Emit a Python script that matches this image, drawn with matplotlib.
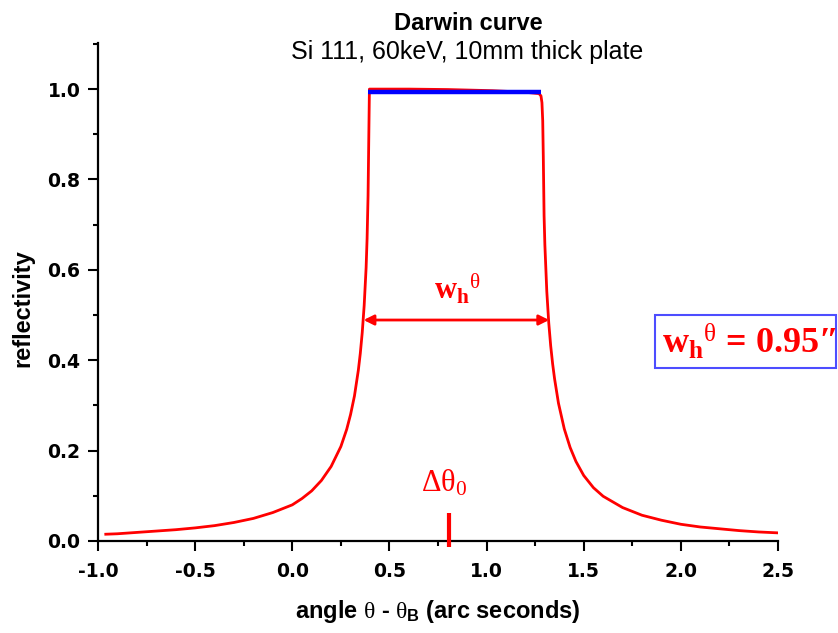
import matplotlib
matplotlib.use("Agg")
import matplotlib.pyplot as plt
from matplotlib.patches import Rectangle
from matplotlib.ticker import MultipleLocator

plt.rcParams['mathtext.fontset'] = 'custom'
plt.rcParams['mathtext.rm'] = 'Liberation Serif'
plt.rcParams['mathtext.it'] = 'Liberation Serif'
plt.rcParams['mathtext.bf'] = 'Liberation Serif:bold'
plt.rcParams['mathtext.sf'] = 'Liberation Sans:bold'

# ---- data ----
angle = [-0.96, -0.9, -0.8, -0.7, -0.6, -0.5, -0.4, -0.3, -0.2, -0.1, 0.0,
         0.05, 0.1, 0.15, 0.2, 0.25, 0.28, 0.30, 0.32, 0.34, 0.35, 0.36,
         0.37, 0.38, 0.385, 0.39, 0.394, 0.397, 0.6, 0.8, 1.03, 1.2, 1.27,
         1.28, 1.285, 1.289, 1.292, 1.296, 1.30, 1.31, 1.32, 1.33, 1.34,
         1.35, 1.37, 1.40, 1.43, 1.46, 1.5, 1.55, 1.6, 1.7, 1.8, 1.9, 2.0,
         2.1, 2.2, 2.3, 2.4, 2.5]
reflectivity = [0.015, 0.016, 0.019, 0.022, 0.025, 0.029, 0.034, 0.041, 0.050,
                0.063, 0.080, 0.094, 0.111, 0.134, 0.165, 0.209, 0.247, 0.280,
                0.321, 0.378, 0.415, 0.461, 0.521, 0.605, 0.669, 0.764, 0.900,
                1.000, 1.000, 0.999, 0.9965, 0.993, 0.990, 0.985, 0.970, 0.930,
                0.850, 0.720, 0.656, 0.552, 0.483, 0.432, 0.392, 0.359, 0.305,
                0.248, 0.207, 0.176, 0.145, 0.118, 0.099, 0.074, 0.057, 0.046,
                0.037, 0.031, 0.027, 0.023, 0.020, 0.018]
plateau_angle = [0.39, 1.28]
plateau_refl = [0.9934, 0.9934]
fwhm_ends = [0.367, 1.322]
fwhm_level = 0.489
delta_theta0 = 0.805
delta_tick = [-0.014, 0.063]
xticks = [-1.0, -0.5, 0.0, 0.5, 1.0, 1.5, 2.0, 2.5]
yticks = [0.0, 0.2, 0.4, 0.6, 0.8, 1.0]

W, H = 838, 633
fig = plt.figure(figsize=(W / 100, H / 100), dpi=100)
ax = fig.add_axes([98 / W, 92 / H, 680 / W, 498 / H])

ax.plot(angle, reflectivity, color='#ff0000', lw=2.0, zorder=3)
ax.plot(plateau_angle, plateau_refl, color='#0000ff', lw=3.2, zorder=4,
        solid_capstyle='butt')

ax.annotate('', xy=(fwhm_ends[0], fwhm_level), xytext=(fwhm_ends[1], fwhm_level),
            arrowprops=dict(arrowstyle='<|-|>', color='#ff0000', lw=2.0,
                            mutation_scale=15, shrinkA=0, shrinkB=0), zorder=5)
ax.text(0.849, 0.535, r'$\mathbf{w}_{\mathbf{h}}{}^{\theta}$', color='#ff0000',
        fontsize=22, ha='center', va='baseline')

ax.plot([delta_theta0, delta_theta0], delta_tick, color='#ff0000', lw=3.0,
        clip_on=False, zorder=5, solid_capstyle='butt')
ax.text(0.782, 0.109, r'$\Delta\theta_0$', color='#ff0000',
        fontsize=22, ha='center', va='baseline')

ax.set_xlim(-1.0, 2.5)
ax.set_ylim(0.0, 1.102)
ax.set_xticks(xticks)
ax.set_yticks(yticks)
ax.xaxis.set_minor_locator(MultipleLocator(0.25))
ax.yaxis.set_minor_locator(MultipleLocator(0.1))
ax.set_xticklabels([f'{v:.1f}' for v in xticks])
ax.set_yticklabels([f'{v:.1f}' for v in yticks])
for s in ['top', 'right']:
    ax.spines[s].set_visible(False)
for s in ['left', 'bottom']:
    ax.spines[s].set_linewidth(1.6)
ax.tick_params(which='major', direction='out', length=7.2, width=1.5)
ax.tick_params(which='minor', direction='out', length=3.6, width=1.5)
ax.tick_params(axis='x', which='major', pad=8.0)
ax.tick_params(axis='y', which='major', pad=5.5)
for lab in ax.get_xticklabels() + ax.get_yticklabels():
    lab.set_fontfamily('DejaVu Sans')
    lab.set_fontweight('bold')
    lab.set_fontsize(13.5)

fig.text(438 / W, 1 - 618 / H, r'angle $\theta$ - $\theta_{\mathsf{B}}$ (arc seconds)',
         family='Liberation Sans', weight='bold', fontsize=17,
         ha='center', va='baseline')
fig.text(23 / W, 1 - 308 / H, 'reflectivity', family='Liberation Sans',
         weight='bold', fontsize=17, rotation=90, ha='center', va='center')

fig.text(468 / W, 1 - 29.5 / H, 'Darwin curve', family='Liberation Sans',
         weight='bold', fontsize=17, ha='center', va='baseline')
fig.text(467 / W, 1 - 59.5 / H, 'Si 111, 60keV, 10mm thick plate',
         family='Liberation Sans', fontsize=18, ha='center', va='baseline')

fig.patches.append(Rectangle((655 / W, 1 - 368 / H), 181 / W, 53 / H,
                             transform=fig.transFigure, fill=False,
                             edgecolor='#4d4dff', lw=1.5))
fig.text(749 / W, 1 - 353 / H,
         r'$\mathbf{w}_{\mathbf{h}}{}^{\theta}$' + ' = 0.95\u2033',
         color='#ff0000', fontsize=26, family='Liberation Serif',
         weight='bold', ha='center', va='baseline')

fig.savefig('out.png', dpi=100)
